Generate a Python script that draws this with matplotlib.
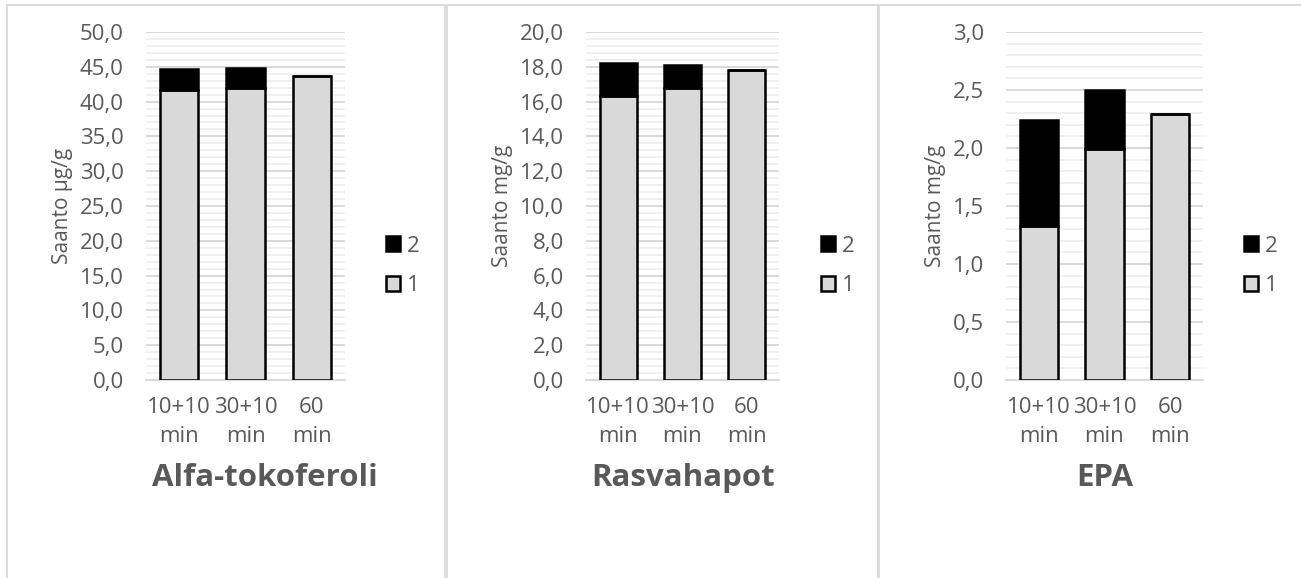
import matplotlib
matplotlib.use("Agg")
import matplotlib.pyplot as plt
from matplotlib.patches import Rectangle
from matplotlib.ticker import MultipleLocator, FuncFormatter

plt.rcParams['font.family'] = ['Open Sans', 'DejaVu Sans']

# uutot: vaihe 1 (harmaa) ja vaihe 2 (musta)
categories = ['10+10\nmin', '30+10\nmin', '60\nmin']
alfa_1 = [41.7, 41.9, 43.7]
alfa_2 = [3.0, 2.9, 0.0]
rasva_1 = [16.3, 16.8, 17.8]
rasva_2 = [1.9, 1.3, 0.0]
epa_1 = [1.33, 1.99, 2.29]
epa_2 = [0.91, 0.51, 0.0]

W, H = 1301, 578
GRAY_TXT = '#595959'

fig = plt.figure(figsize=(W / 100, H / 100), dpi=100)
fig.patch.set_facecolor('white')

# kaavioalueiden kehykset
for x0, x1 in [(7, 445), (447, 878), (879, 1310)]:
    fig.patches.append(Rectangle((x0 / W, -0.1), (x1 - x0) / W, 1.1 - 5 / H,
                                 transform=fig.transFigure, fill=False,
                                 edgecolor='#d9d9d9', linewidth=1.3))

panels = [
    dict(left=146, right=345, s1=alfa_1, s2=alfa_2, ymax=50, major=5, minor=1,
         ylabel='Saanto µg/g', title='Alfa-tokoferoli', tx=265, leg=386),
    dict(left=586, right=779, s1=rasva_1, s2=rasva_2, ymax=20, major=2, minor=0.4,
         ylabel='Saanto mg/g', title='Rasvahapot', tx=683, leg=821),
    dict(left=1006, right=1203, s1=epa_1, s2=epa_2, ymax=3, major=0.5, minor=0.1,
         ylabel='Saanto mg/g', title='EPA', tx=1105, leg=1244),
]

top, bottom = 32, 380
fmt = FuncFormatter(lambda v, p: f'{v:.1f}'.replace('.', ','))

for p in panels:
    ax = fig.add_axes([p['left'] / W, 1 - bottom / H,
                       (p['right'] - p['left']) / W, (bottom - top) / H])
    x = range(len(categories))
    b1 = ax.bar(x, p['s1'], width=0.58, color='#d9d9d9', edgecolor='black',
                linewidth=1.8, zorder=3)
    b2 = ax.bar(x, p['s2'], bottom=p['s1'], width=0.58, color='black',
                edgecolor='black', linewidth=1.8, zorder=3)

    ax.set_xlim(-0.5, len(categories) - 0.5)
    ax.set_ylim(0, p['ymax'])
    ax.yaxis.set_major_locator(MultipleLocator(p['major']))
    ax.yaxis.set_minor_locator(MultipleLocator(p['minor']))
    ax.yaxis.set_major_formatter(fmt)
    ax.grid(axis='y', which='major', color='#d9d9d9', linewidth=1.4)
    ax.grid(axis='y', which='minor', color='#f0f0f0', linewidth=1.4)
    ax.set_axisbelow(True)

    for s in ['top', 'right', 'left']:
        ax.spines[s].set_visible(False)
    ax.spines['bottom'].set_color('#d9d9d9')
    ax.spines['bottom'].set_linewidth(1.4)

    ax.set_xticks(list(x))
    ax.set_xticklabels(categories, linespacing=1.5)
    ax.tick_params(axis='both', which='both', length=0, labelsize=16,
                   labelcolor=GRAY_TXT)
    ax.tick_params(axis='y', pad=16)
    ax.tick_params(axis='x', pad=12)
    ax.set_ylabel(p['ylabel'], fontsize=15, color=GRAY_TXT, labelpad=5)

    fig.text(p['tx'] / W, 1 - 478 / H, p['title'], ha='center', va='center',
             fontsize=22.5, fontweight='bold', color=GRAY_TXT)

    ax.legend([b2, b1], ['2', '1'], loc='center left',
              bbox_to_anchor=(p['leg'] / W, 1 - 266 / H),
              bbox_transform=fig.transFigure, frameon=False, fontsize=16,
              labelcolor=GRAY_TXT, handlelength=0.65, handleheight=0.65,
              handletextpad=0.3, labelspacing=0.85, borderpad=0, borderaxespad=0)

fig.savefig('out.png', dpi=100, facecolor='white')
